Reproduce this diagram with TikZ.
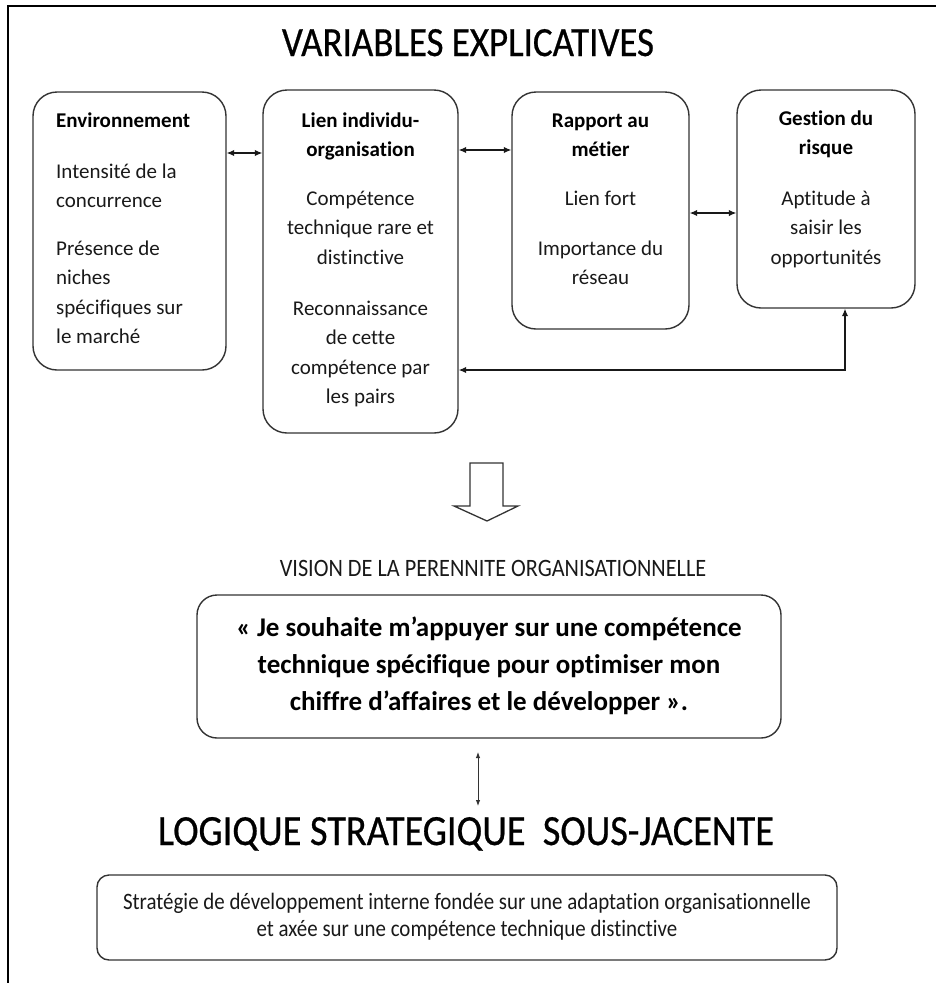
\documentclass[tikz,border=0pt]{standalone}
\usepackage{fontspec}
\setmainfont{Carlito}[Ligatures=NoCommon]
\newfontfamily\condfont[FakeStretch=0.89,Ligatures=NoCommon]{Carlito}
\newfontfamily\titlefont[FakeStretch=0.89,FakeBold=0.6]{Carlito}
\usetikzlibrary{arrows.meta}
\begin{document}
\begin{tikzpicture}[x=1pt,y=-1pt,
  box/.style={draw=black!80, line width=1.4pt, rounded corners=24pt, inner sep=0pt},
  body/.style={font=\fontsize{21}{29.5}\selectfont, inner sep=0pt, anchor=base, text=black!90},
  head/.style={font=\fontsize{21}{29}\selectfont\bfseries, inner sep=0pt, anchor=base, align=center},
  big/.style={font=\titlefont\fontsize{41.5}{44}\selectfont, inner sep=0pt, anchor=base},
  dbl/.style={{Latex[length=7.5pt,width=6.5pt]}-{Latex[length=7.5pt,width=6.5pt]}, line width=1.2pt, draw=black!90},
  thin/.style={{Latex[length=6pt,width=4.5pt]}-{Latex[length=6pt,width=4.5pt]}, line width=0.9pt, draw=black!80}
]
\useasboundingbox (0,0) rectangle (936,983);
% frame
\draw[line width=2pt] (8,983) -- (8,6) -- (936,6);

\node[big] (t1) at (468,56) {VARIABLES EXPLICATIVES};

% boxes
\node[box, minimum width=193pt, minimum height=278pt] (env) at (129.5,231) {};
\node[box, minimum width=195pt, minimum height=343pt] (lien) at (360.5,261.5) {};
\node[box, minimum width=177pt, minimum height=237pt] (rap) at (600.5,210.5) {};
\node[box, minimum width=178pt, minimum height=218pt] (ges) at (826,199) {};

% env text (anchor base = last line baseline)
\node[head, anchor=base west] (envh) at (56,127) {Environnement};
\node[body, anchor=base west, align=left] (env1) at (56,207.5) {Intensité de la\\concurrence};
\node[body, anchor=base west, align=left] (env2) at (56,343.5) {Présence de\\niches\\spécifiques sur\\le marché};

% lien text
\node[head] (lienh) at (360.5,156) {Lien individu-\\organisation};
\node[body, align=center] (lien1) at (360.5,264) {Compétence\\technique rare et\\distinctive};
\node[body, align=center] (lien2) at (360.5,403.5) {Reconnaissance\\de cette\\compétence par\\les pairs};

% rapport text
\node[head] (raph) at (600.5,156) {Rapport au\\métier};
\node[body, align=center] (rap1) at (600.5,205) {Lien fort};
\node[body, align=center] (rap2) at (600.5,284.5) {Importance du\\réseau};

% gestion text
\node[head] (gesh) at (826,154) {Gestion du\\risque};
\node[body, align=center] (ges1) at (826,264) {Aptitude à\\saisir les\\opportunités};

% connectors
\coordinate (y153) at (0,153);
\coordinate (y150) at (0,150);
\coordinate (y213) at (0,213);
\coordinate (y370) at (0,370);
\coordinate (x845) at (845,0);
\draw[dbl] (env.east |- y153) -- (lien.west |- y153);
\draw[dbl] (lien.east |- y150) -- (rap.west |- y150);
\draw[dbl] (rap.east |- y213) -- (ges.west |- y213);
\draw[dbl] (lien.east |- y370) -| (ges.south -| x845);

% hollow arrow
\draw[line width=1.3pt, draw=black!80, line join=miter]
  (470,463) -- (503,463) -- (503,506) -- (518,506) -- (487,521) -- (454,506) -- (470,506) -- cycle;

\node[font=\condfont\fontsize{25}{28}\selectfont, inner sep=0pt, anchor=base, text=black!90] (vis) at (493,576) {VISION DE LA PERENNITE ORGANISATIONNELLE};

\node[box, rounded corners=20pt, minimum width=584pt, minimum height=143pt] (quote) at (489,666.5) {};
\node[font=\fontsize{27}{37}\selectfont\bfseries, inner sep=0pt, anchor=base, align=center] (qt) at (489,710)
  {« Je souhaite m’appuyer sur une compétence\\technique spécifique pour optimiser mon\\chiffre d’affaires et le développer ».};

\coordinate (y752) at (0,752);
\coordinate (y806) at (0,806);
\coordinate (x478) at (478,0);
\draw[thin] (x478 |- y806) -- (x478 |- y752);

\node[big, font=\titlefont\fontsize{43}{46}\selectfont] (t2) at (466,845) {LOGIQUE STRATEGIQUE\ \ SOUS-JACENTE};

\node[box, rounded corners=12pt, minimum width=740pt, minimum height=85pt] (strat) at (467,917.5) {};
\node[font=\condfont\fontsize{23.5}{27}\selectfont, inner sep=0pt, anchor=base, align=center, text=black!90] (st) at (467,936)
  {Stratégie de développement interne fondée sur une adaptation organisationnelle\\et axée sur une compétence technique distinctive};
\end{tikzpicture}
\end{document}
